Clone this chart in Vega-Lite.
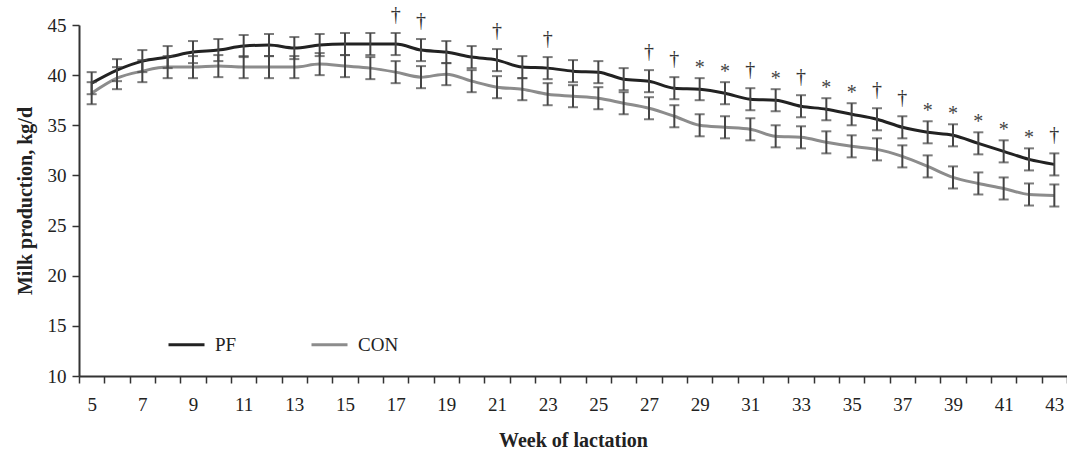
{
  "$schema": "https://vega.github.io/schema/vega-lite/v6.json",
  "width": 988,
  "height": 351,
  "autosize": "none",
  "padding": {"left": 79, "top": 25, "right": 0, "bottom": 74},
  "background": "white",
  "config": {
    "view": {"stroke": null},
    "font": "Liberation Serif",
    "text": {"font": "Liberation Serif"},
    "legend": {"labelFont": "Liberation Serif", "titleFont": "Liberation Serif"},
    "axis": {"grid": false, "labelFont": "Liberation Serif", "titleFont": "Liberation Serif", "labelFontSize": 19, "titleFontSize": 20, "titleFontWeight": "bold", "labelColor": "#222", "titleColor": "#222", "domainColor": "#333", "domainWidth": 2, "tickColor": "#333", "tickWidth": 1.5, "tickSize": 7}
  },
  "data": {"values": [
    {"week":5,"group":"PF","mean":39.2,"lo":38.1,"hi":40.3,"sig":""},
    {"week":6,"group":"PF","mean":40.5,"lo":39.4,"hi":41.6,"sig":""},
    {"week":7,"group":"PF","mean":41.4,"lo":40.3,"hi":42.5,"sig":""},
    {"week":8,"group":"PF","mean":41.8,"lo":40.7,"hi":42.9,"sig":""},
    {"week":9,"group":"PF","mean":42.3,"lo":41.2,"hi":43.4,"sig":""},
    {"week":10,"group":"PF","mean":42.5,"lo":41.4,"hi":43.6,"sig":""},
    {"week":11,"group":"PF","mean":42.9,"lo":41.8,"hi":44.0,"sig":""},
    {"week":12,"group":"PF","mean":43.0,"lo":41.9,"hi":44.1,"sig":""},
    {"week":13,"group":"PF","mean":42.7,"lo":41.6,"hi":43.8,"sig":""},
    {"week":14,"group":"PF","mean":43.0,"lo":41.9,"hi":44.1,"sig":""},
    {"week":15,"group":"PF","mean":43.1,"lo":42.0,"hi":44.2,"sig":""},
    {"week":16,"group":"PF","mean":43.1,"lo":42.0,"hi":44.2,"sig":""},
    {"week":17,"group":"PF","mean":43.1,"lo":42.0,"hi":44.2,"sig":"†"},
    {"week":18,"group":"PF","mean":42.5,"lo":41.4,"hi":43.6,"sig":"†"},
    {"week":19,"group":"PF","mean":42.3,"lo":41.2,"hi":43.4,"sig":""},
    {"week":20,"group":"PF","mean":41.8,"lo":40.7,"hi":42.9,"sig":""},
    {"week":21,"group":"PF","mean":41.5,"lo":40.4,"hi":42.6,"sig":"†"},
    {"week":22,"group":"PF","mean":40.8,"lo":39.7,"hi":41.9,"sig":""},
    {"week":23,"group":"PF","mean":40.7,"lo":39.6,"hi":41.8,"sig":"†"},
    {"week":24,"group":"PF","mean":40.4,"lo":39.3,"hi":41.5,"sig":""},
    {"week":25,"group":"PF","mean":40.3,"lo":39.2,"hi":41.4,"sig":""},
    {"week":26,"group":"PF","mean":39.6,"lo":38.5,"hi":40.7,"sig":""},
    {"week":27,"group":"PF","mean":39.4,"lo":38.3,"hi":40.5,"sig":"†"},
    {"week":28,"group":"PF","mean":38.7,"lo":37.6,"hi":39.8,"sig":"†"},
    {"week":29,"group":"PF","mean":38.6,"lo":37.5,"hi":39.7,"sig":"*"},
    {"week":30,"group":"PF","mean":38.2,"lo":37.1,"hi":39.3,"sig":"*"},
    {"week":31,"group":"PF","mean":37.6,"lo":36.5,"hi":38.7,"sig":"†"},
    {"week":32,"group":"PF","mean":37.5,"lo":36.4,"hi":38.6,"sig":"*"},
    {"week":33,"group":"PF","mean":36.9,"lo":35.8,"hi":38.0,"sig":"†"},
    {"week":34,"group":"PF","mean":36.6,"lo":35.5,"hi":37.7,"sig":"*"},
    {"week":35,"group":"PF","mean":36.1,"lo":35.0,"hi":37.2,"sig":"*"},
    {"week":36,"group":"PF","mean":35.6,"lo":34.5,"hi":36.7,"sig":"†"},
    {"week":37,"group":"PF","mean":34.8,"lo":33.7,"hi":35.9,"sig":"†"},
    {"week":38,"group":"PF","mean":34.3,"lo":33.2,"hi":35.4,"sig":"*"},
    {"week":39,"group":"PF","mean":34.0,"lo":32.9,"hi":35.1,"sig":"*"},
    {"week":40,"group":"PF","mean":33.2,"lo":32.1,"hi":34.3,"sig":"*"},
    {"week":41,"group":"PF","mean":32.4,"lo":31.3,"hi":33.5,"sig":"*"},
    {"week":42,"group":"PF","mean":31.6,"lo":30.5,"hi":32.7,"sig":"*"},
    {"week":43,"group":"PF","mean":31.1,"lo":30.0,"hi":32.2,"sig":"†"},
    {"week":5,"group":"CON","mean":38.2,"lo":37.1,"hi":39.3,"sig":""},
    {"week":6,"group":"CON","mean":39.7,"lo":38.6,"hi":40.8,"sig":""},
    {"week":7,"group":"CON","mean":40.4,"lo":39.3,"hi":41.5,"sig":""},
    {"week":8,"group":"CON","mean":40.8,"lo":39.7,"hi":41.9,"sig":""},
    {"week":9,"group":"CON","mean":40.8,"lo":39.7,"hi":41.9,"sig":""},
    {"week":10,"group":"CON","mean":40.9,"lo":39.8,"hi":42.0,"sig":""},
    {"week":11,"group":"CON","mean":40.8,"lo":39.7,"hi":41.9,"sig":""},
    {"week":12,"group":"CON","mean":40.8,"lo":39.7,"hi":41.9,"sig":""},
    {"week":13,"group":"CON","mean":40.8,"lo":39.7,"hi":41.9,"sig":""},
    {"week":14,"group":"CON","mean":41.1,"lo":40.0,"hi":42.2,"sig":""},
    {"week":15,"group":"CON","mean":40.9,"lo":39.8,"hi":42.0,"sig":""},
    {"week":16,"group":"CON","mean":40.7,"lo":39.6,"hi":41.8,"sig":""},
    {"week":17,"group":"CON","mean":40.3,"lo":39.2,"hi":41.4,"sig":""},
    {"week":18,"group":"CON","mean":39.8,"lo":38.7,"hi":40.9,"sig":""},
    {"week":19,"group":"CON","mean":40.1,"lo":39.0,"hi":41.2,"sig":""},
    {"week":20,"group":"CON","mean":39.4,"lo":38.3,"hi":40.5,"sig":""},
    {"week":21,"group":"CON","mean":38.8,"lo":37.7,"hi":39.9,"sig":""},
    {"week":22,"group":"CON","mean":38.6,"lo":37.5,"hi":39.7,"sig":""},
    {"week":23,"group":"CON","mean":38.1,"lo":37.0,"hi":39.2,"sig":""},
    {"week":24,"group":"CON","mean":37.9,"lo":36.8,"hi":39.0,"sig":""},
    {"week":25,"group":"CON","mean":37.7,"lo":36.6,"hi":38.8,"sig":""},
    {"week":26,"group":"CON","mean":37.2,"lo":36.1,"hi":38.3,"sig":""},
    {"week":27,"group":"CON","mean":36.7,"lo":35.6,"hi":37.8,"sig":""},
    {"week":28,"group":"CON","mean":35.9,"lo":34.8,"hi":37.0,"sig":""},
    {"week":29,"group":"CON","mean":35.0,"lo":33.9,"hi":36.1,"sig":""},
    {"week":30,"group":"CON","mean":34.8,"lo":33.7,"hi":35.9,"sig":""},
    {"week":31,"group":"CON","mean":34.6,"lo":33.5,"hi":35.7,"sig":""},
    {"week":32,"group":"CON","mean":33.9,"lo":32.8,"hi":35.0,"sig":""},
    {"week":33,"group":"CON","mean":33.8,"lo":32.7,"hi":34.9,"sig":""},
    {"week":34,"group":"CON","mean":33.3,"lo":32.2,"hi":34.4,"sig":""},
    {"week":35,"group":"CON","mean":32.9,"lo":31.8,"hi":34.0,"sig":""},
    {"week":36,"group":"CON","mean":32.6,"lo":31.5,"hi":33.7,"sig":""},
    {"week":37,"group":"CON","mean":31.9,"lo":30.8,"hi":33.0,"sig":""},
    {"week":38,"group":"CON","mean":30.9,"lo":29.8,"hi":32.0,"sig":""},
    {"week":39,"group":"CON","mean":29.8,"lo":28.7,"hi":30.9,"sig":""},
    {"week":40,"group":"CON","mean":29.2,"lo":28.1,"hi":30.3,"sig":""},
    {"week":41,"group":"CON","mean":28.7,"lo":27.6,"hi":29.8,"sig":""},
    {"week":42,"group":"CON","mean":28.1,"lo":27.0,"hi":29.2,"sig":""},
    {"week":43,"group":"CON","mean":28.0,"lo":26.9,"hi":29.1,"sig":""}
  ]},
  "encoding": {
    "x": {
      "field": "week", "type": "ordinal",
      "scale": {"paddingInner": 0, "paddingOuter": 0},
      "axis": {"title": "Week of lactation", "labelAngle": 0, "tickBand": "extent", "labelPadding": 12, "titlePadding": 16, "labelExpr": "datum.value % 2 == 1 ? datum.label : ''"}
    }
  },
  "layer": [
    {
      "mark": {"type": "line", "strokeWidth": 3, "interpolate": "monotone"},
      "encoding": {
        "y": {"field": "mean", "type": "quantitative", "scale": {"domain": [10, 45], "nice": false, "zero": false},
          "axis": {"title": "Milk production, kg/d", "values": [10, 15, 20, 25, 30, 35, 40, 45], "labelPadding": 6, "titlePadding": 12}},
        "color": {"field": "group", "type": "nominal",
          "scale": {"domain": ["PF", "CON"], "range": ["#222222", "#8c8c8c"]},
          "legend": {"title": null, "orient": "none", "legendX": 88, "legendY": 300, "direction": "horizontal", "symbolType": "stroke", "symbolSize": 1296, "symbolStrokeWidth": 3, "labelFont": "Liberation Serif", "labelFontSize": 19, "labelColor": "#222", "labelOffset": 9, "columnPadding": 68, "padding": 0}}
      }
    },
    {
      "mark": {"type": "rule", "strokeWidth": 2, "color": "#444444"},
      "encoding": {"y": {"field": "lo", "type": "quantitative"}, "y2": {"field": "hi"}, "detail": {"field": "group"}}
    },
    {
      "mark": {"type": "tick", "size": 10, "thickness": 2, "color": "#444444"},
      "encoding": {"y": {"field": "lo", "type": "quantitative"}, "detail": {"field": "group"}}
    },
    {
      "mark": {"type": "tick", "size": 10, "thickness": 2, "color": "#444444"},
      "encoding": {"y": {"field": "hi", "type": "quantitative"}, "detail": {"field": "group"}}
    },
    {
      "transform": [{"filter": "datum.sig == '†'"}],
      "mark": {"type": "text", "font": "Liberation Serif", "fontSize": 20, "fill": "#333333", "baseline": "alphabetic", "dy": -12},
      "encoding": {"y": {"field": "hi", "type": "quantitative"}, "text": {"field": "sig"}}
    },
    {
      "transform": [{"filter": "datum.sig == '*'"}],
      "mark": {"type": "text", "font": "Liberation Serif", "fontSize": 20, "fill": "#444444", "baseline": "alphabetic", "dy": -4},
      "encoding": {"y": {"field": "hi", "type": "quantitative"}, "text": {"field": "sig"}}
    }
  ]
}
